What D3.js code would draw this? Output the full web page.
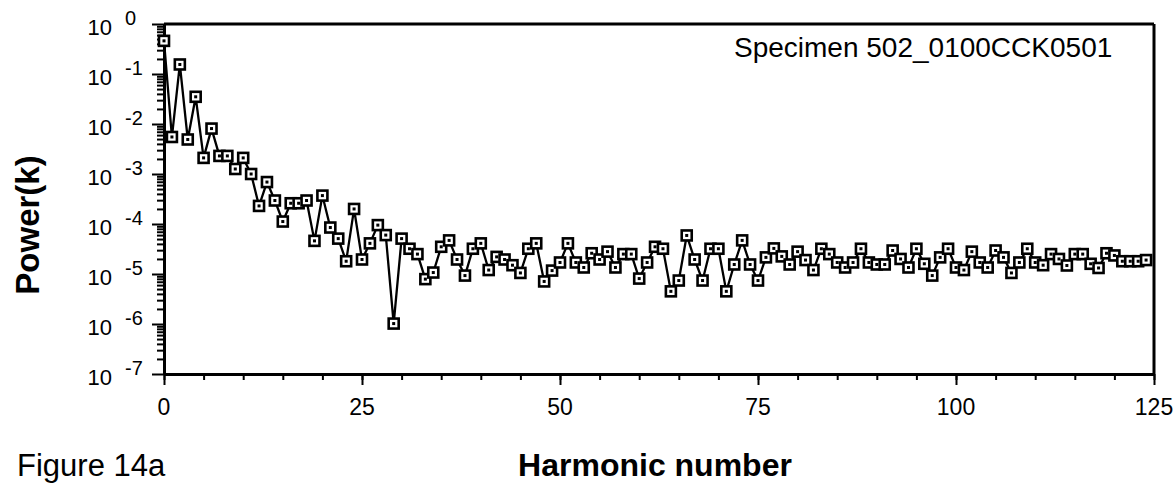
<!DOCTYPE html>
<html>
<head>
<meta charset="utf-8">
<script src="https://cdn.jsdelivr.net/npm/d3@7"></script>
<style>
  html, body { margin: 0; padding: 0; background: #fff; }
  svg { display: block; font-family: "Liberation Sans", Arial, sans-serif; }
</style>
</head>
<body>
<svg id="chart" width="1176" height="484"></svg>
<script>
// ---- data ----
const harmonics = d3.range(0, 125);
const power = [
  0.46, 5.5e-3, 0.155, 4.9e-3, 0.035, 2.1e-3, 8.1e-3, 2.3e-3, 2.3e-3, 1.26e-3,
  2.1e-3, 1.0e-3, 2.3e-4, 6.9e-4, 2.95e-4, 1.12e-4, 2.6e-4, 2.6e-4, 2.95e-4, 4.6e-5,
  3.7e-4, 8.5e-5, 5.1e-5, 1.8e-5, 2.0e-4, 1.95e-5, 4.1e-5, 9.5e-5, 6.0e-5, 1.02e-6,
  5.1e-5, 3.2e-5, 2.5e-5, 7.9e-6, 1.07e-5, 3.5e-5, 4.7e-5, 1.95e-5, 9.3e-6, 3.2e-5,
  4.1e-5, 1.2e-5, 2.2e-5, 1.95e-5, 1.5e-5, 1.05e-5, 3.2e-5, 4.1e-5, 7.1e-6, 1.17e-5,
  1.7e-5, 4.1e-5, 1.7e-5, 1.35e-5, 2.6e-5, 1.95e-5, 2.8e-5, 1.35e-5, 2.5e-5, 2.5e-5,
  8.1e-6, 1.7e-5, 3.5e-5, 3.2e-5, 4.5e-6, 7.4e-6, 5.9e-5, 1.95e-5, 7.4e-6, 3.2e-5,
  3.2e-5, 4.5e-6, 1.55e-5, 4.7e-5, 1.55e-5, 7.4e-6, 2.15e-5, 3.25e-5, 2.25e-5, 1.55e-5,
  2.8e-5, 1.9e-5, 1.2e-5, 3.2e-5, 2.5e-5, 1.7e-5, 1.35e-5, 1.7e-5, 3.2e-5, 1.7e-5,
  1.55e-5, 1.55e-5, 2.95e-5, 2.0e-5, 1.35e-5, 3.2e-5, 1.6e-5, 9.3e-6, 2.15e-5, 3.2e-5,
  1.35e-5, 1.2e-5, 2.8e-5, 1.7e-5, 1.35e-5, 2.95e-5, 2.15e-5, 1.05e-5, 1.7e-5, 3.2e-5,
  1.7e-5, 1.5e-5, 2.5e-5, 2.0e-5, 1.48e-5, 2.5e-5, 2.5e-5, 1.6e-5, 1.32e-5, 2.6e-5,
  2.35e-5, 1.8e-5, 1.8e-5, 1.8e-5, 1.9e-5
];
const xTicksMajor = [0, 25, 50, 75, 100, 125];
const xTicksMinor = d3.range(0, 126, 5);
const yExponents = [0, -1, -2, -3, -4, -5, -6, -7];
const specimenLabel = "Specimen 502_0100CCK0501";
const xTitle = "Harmonic number";
const yTitle = "Power(k)";
const figureLabel = "Figure 14a";

(function draw() {
  // ---- layout ----
  const pLeft = 164, pRight = 1154, pTop = 24, pBottom = 374;
  const svg = d3.select("#chart");

  const x = d3.scaleLinear().domain([0, 125]).range([pLeft, pRight]);
  const y = d3.scaleLog().domain([1e-7, 1]).range([pBottom, pTop]);

  // minor log ticks
  const yMinor = [];
  for (let e = -7; e < 0; e++) for (let m = 2; m <= 9; m++) yMinor.push(m * Math.pow(10, e));
  const yMajor = yExponents.map(e => Math.pow(10, e));

  // frame top & right
  svg.append("line").attr("x1", pLeft).attr("x2", pRight).attr("y1", pTop).attr("y2", pTop)
    .attr("stroke", "#000").attr("stroke-width", 3);
  svg.append("line").attr("x1", pRight).attr("x2", pRight).attr("y1", pTop).attr("y2", pBottom)
    .attr("stroke", "#000").attr("stroke-width", 3);

  // y axis
  const gyMinor = svg.append("g").attr("transform", `translate(${pLeft},0)`)
    .call(d3.axisLeft(y).tickValues(yMinor).tickSize(7).tickSizeOuter(0).tickFormat(""));
  const gyMajor = svg.append("g").attr("transform", `translate(${pLeft},0)`)
    .call(d3.axisLeft(y).tickValues(yMajor).tickSize(12).tickSizeOuter(0).tickFormat(""));
  // x axis
  const gxMinor = svg.append("g").attr("transform", `translate(0,${pBottom})`)
    .call(d3.axisBottom(x).tickValues(xTicksMinor).tickSize(6).tickSizeOuter(0).tickFormat(""));
  const gxMajor = svg.append("g").attr("transform", `translate(0,${pBottom})`)
    .call(d3.axisBottom(x).tickValues(xTicksMajor).tickSize(11).tickSizeOuter(0).tickFormat(""));

  [gyMinor, gyMajor, gxMinor, gxMajor].forEach(g => {
    g.selectAll("path.domain").attr("stroke", "#000").attr("stroke-width", 3);
    g.selectAll(".tick line").attr("stroke", "#000").attr("stroke-width", 2);
  });

  // x tick labels
  svg.append("g").selectAll("text").data(xTicksMajor).join("text")
    .attr("x", d => x(d)).attr("y", 415)
    .attr("text-anchor", "middle").attr("font-size", 23).attr("fill", "#000")
    .text(d => d);

  // y tick labels: 10 with superscript exponent
  const yl = svg.append("g");
  yExponents.forEach(e => {
    const yy = y(Math.pow(10, e));
    yl.append("text").attr("x", 112).attr("y", yy + 10.5)
      .attr("text-anchor", "end").attr("font-size", 22).attr("fill", "#000").text("10");
    yl.append("text").attr("x", 125).attr("y", yy + 1)
      .attr("text-anchor", "start").attr("font-size", 20).attr("fill", "#000").text(e === 0 ? "0" : "-" + Math.abs(e));
  });

  // series line
  const line = d3.line().x((d, i) => x(harmonics[i])).y(d => y(d));
  svg.append("path").datum(power).attr("d", line)
    .attr("fill", "none").attr("stroke", "#000").attr("stroke-width", 2.3).attr("stroke-linejoin", "round");

  // markers
  const mk = svg.append("g").selectAll("g").data(power).join("g")
    .attr("transform", (d, i) => `translate(${x(harmonics[i])},${y(d)})`);
  mk.append("rect").attr("x", -5).attr("y", -5).attr("width", 10).attr("height", 10)
    .attr("fill", "#fff").attr("stroke", "#000").attr("stroke-width", 2.6);
  mk.append("rect").attr("x", -1.5).attr("y", -1.5).attr("width", 3).attr("height", 3).attr("fill", "#000");

  // texts
  svg.append("text").attr("x", 734).attr("y", 57).attr("font-size", 28).attr("fill", "#000").text(specimenLabel);
  svg.append("text").attr("x", 655).attr("y", 476).attr("text-anchor", "middle")
    .attr("font-size", 32).attr("font-weight", "bold").attr("fill", "#000").text(xTitle);
  svg.append("text").attr("x", 17).attr("y", 476).attr("font-size", 31).attr("fill", "#000").text(figureLabel);
  svg.append("text").attr("transform", "translate(39,225) rotate(-90)").attr("text-anchor", "middle")
    .attr("font-size", 33).attr("font-weight", "bold").attr("fill", "#000").text(yTitle);
})();
</script>
</body>
</html>
